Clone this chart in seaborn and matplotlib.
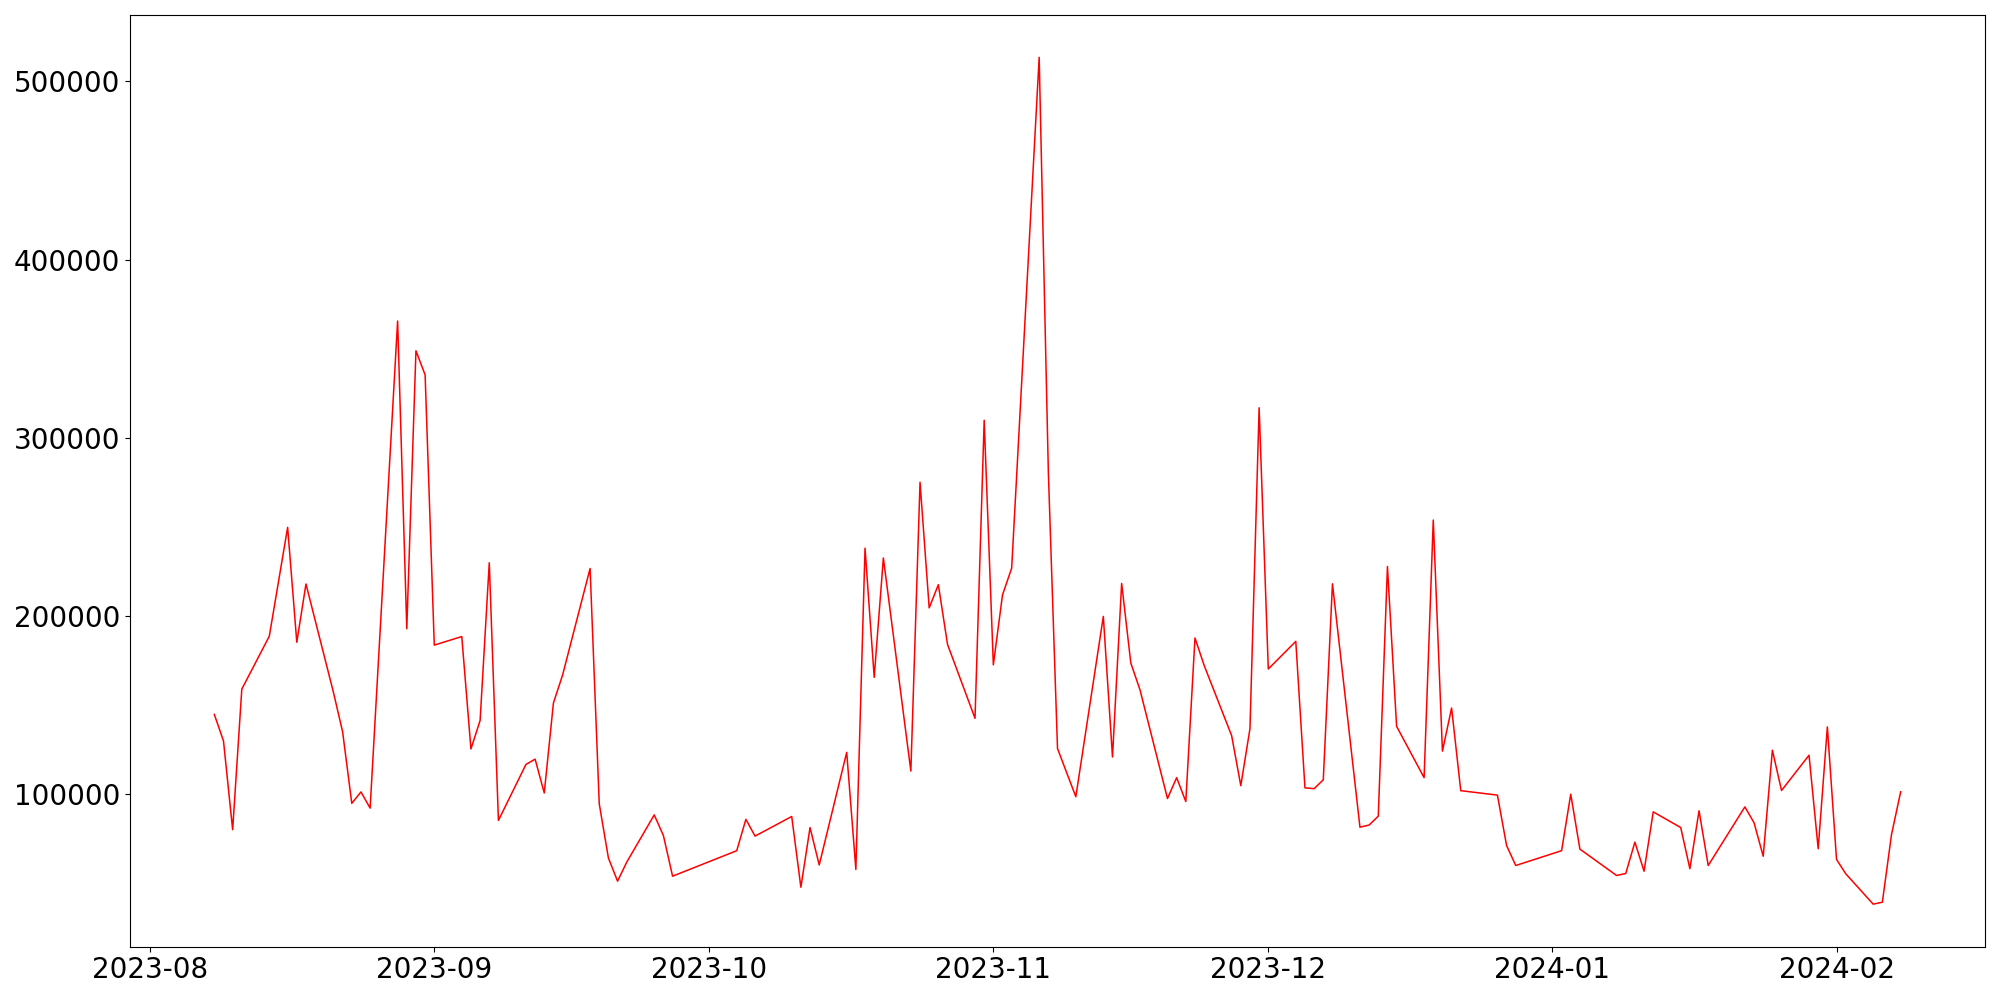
import matplotlib
matplotlib.use("Agg")
import matplotlib.pyplot as plt
import seaborn as sns
import pandas as pd

dates = [
    "2023-08-08", "2023-08-09", "2023-08-10", "2023-08-11", "2023-08-14", "2023-08-16",
    "2023-08-17", "2023-08-18", "2023-08-21", "2023-08-22", "2023-08-23", "2023-08-24",
    "2023-08-25", "2023-08-28", "2023-08-29", "2023-08-30", "2023-08-31", "2023-09-01",
    "2023-09-04", "2023-09-05", "2023-09-06", "2023-09-07", "2023-09-08", "2023-09-11",
    "2023-09-12", "2023-09-13", "2023-09-14", "2023-09-15", "2023-09-18", "2023-09-19",
    "2023-09-20", "2023-09-21", "2023-09-22", "2023-09-25", "2023-09-26", "2023-09-27",
    "2023-10-04", "2023-10-05", "2023-10-06", "2023-10-10", "2023-10-11", "2023-10-12",
    "2023-10-13", "2023-10-16", "2023-10-17", "2023-10-18", "2023-10-19", "2023-10-20",
    "2023-10-23", "2023-10-24", "2023-10-25", "2023-10-26", "2023-10-27", "2023-10-30",
    "2023-10-31", "2023-11-01", "2023-11-02", "2023-11-03", "2023-11-06", "2023-11-07",
    "2023-11-08", "2023-11-09", "2023-11-10", "2023-11-13", "2023-11-14", "2023-11-15",
    "2023-11-16", "2023-11-17", "2023-11-20", "2023-11-21", "2023-11-22", "2023-11-23",
    "2023-11-24", "2023-11-27", "2023-11-28", "2023-11-29", "2023-11-30", "2023-12-01",
    "2023-12-04", "2023-12-05", "2023-12-06", "2023-12-07", "2023-12-08", "2023-12-11",
    "2023-12-12", "2023-12-13", "2023-12-14", "2023-12-15", "2023-12-18", "2023-12-19",
    "2023-12-20", "2023-12-21", "2023-12-22", "2023-12-26", "2023-12-27", "2023-12-28",
    "2024-01-02", "2024-01-03", "2024-01-04", "2024-01-08", "2024-01-09", "2024-01-10",
    "2024-01-11", "2024-01-12", "2024-01-15", "2024-01-16", "2024-01-17", "2024-01-18",
    "2024-01-22", "2024-01-23", "2024-01-24", "2024-01-25", "2024-01-26", "2024-01-29",
    "2024-01-30", "2024-01-31", "2024-02-01", "2024-02-02", "2024-02-05", "2024-02-06",
    "2024-02-07", "2024-02-08",
]

values = [
    144700, 129800, 80000, 158900, 188600, 249700,
    185200, 217900, 157000, 134900, 94800, 101200,
    92100, 365500, 192800, 348800, 335300, 183600,
    188400, 125300, 141300, 229800, 85200, 116600,
    119600, 100600, 151100, 166800, 226600, 94500,
    64100, 51100, 61800, 88300, 76700, 53900,
    68200, 85800, 76400, 87400, 47700, 81200,
    60200, 123400, 57700, 238000, 165500, 232500,
    112900, 275000, 204500, 217500, 184000, 142500,
    309800, 172500, 211800, 226800, 513500, 281000,
    125600, 112000, 98500, 199700, 120800, 218200,
    173500, 158500, 97500, 109200, 95800, 187600,
    172200, 132800, 104700, 136700, 316800, 170200,
    185700, 103500, 103000, 108000, 218000, 81400,
    82600, 87600, 227700, 138000, 109200, 253800,
    124100, 148300, 101900, 99400, 71100, 59900,
    68200, 99900, 69100, 54300, 55400, 73000,
    56700, 90000, 81200, 58100, 90600, 59900,
    92800, 83900, 65100, 124600, 102000, 121800,
    69300, 137700, 63300, 55300, 38200, 39300,
    77300, 101300,
]

df = pd.DataFrame({"date": pd.to_datetime(dates), "value": values})

fig, ax = plt.subplots(figsize=(20, 10), dpi=100)
fig.subplots_adjust(left=0.065, right=0.9925, top=0.985, bottom=0.0535)

sns.lineplot(data=df, x="date", y="value", color="red", linewidth=1.1, ax=ax)

ax.set_xlabel("")
ax.set_ylabel("")
ax.tick_params(axis="both", labelsize=20)

fig.savefig("out.png", dpi=100)
